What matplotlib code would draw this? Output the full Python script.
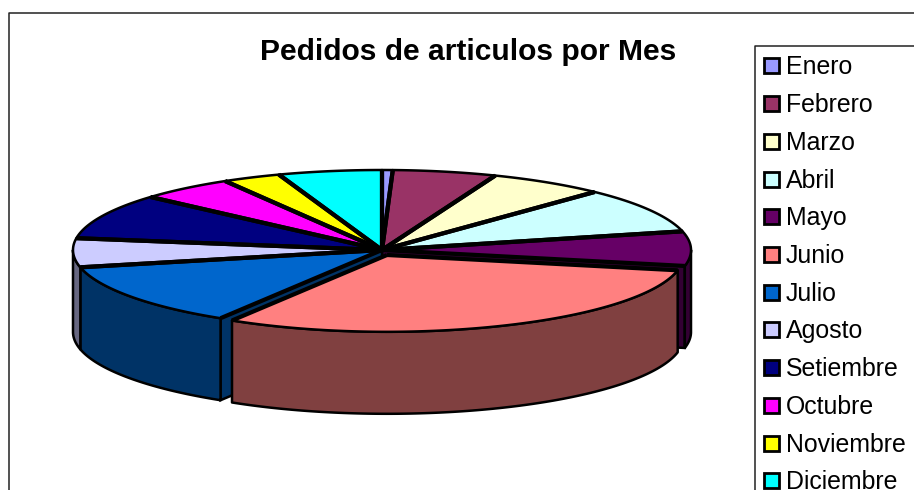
import numpy as np
import matplotlib
matplotlib.use('Agg')
import matplotlib.pyplot as plt
from matplotlib.patches import Polygon, Rectangle

plt.rcParams['font.family'] = ['Liberation Sans', 'DejaVu Sans']

# slices (as share of the circle)
meses = ['Enero', 'Febrero', 'Marzo', 'Abril', 'Mayo', 'Junio', 'Julio',
         'Agosto', 'Setiembre', 'Octubre', 'Noviembre', 'Diciembre']
pedidos = [2, 19.5, 22, 33, 25, 110, 46, 21, 33, 18, 11, 19.5]
colores = ['#9999FF', '#993366', '#FFFFCC', '#CCFFFF', '#660066', '#FF8080',
           '#0066CC', '#CCCCFF', '#000080', '#FF00FF', '#FFFF00', '#00FFFF']
separado = 'Junio'

# pixel geometry of the 3d pie
cx, cy = 382, 250
rx, ry = 309, 80
depth = 82
sep_dx, sep_dy, sep_r = 5, 5, 0.96


def darker(color):
    r, g, b = matplotlib.colors.to_rgb(color)
    return (r * 0.5, g * 0.5, b * 0.5)


def arc(a0, a1, x0, y0, scale, dy=0):
    t = np.radians(np.linspace(a0, a1, 120))
    return np.column_stack([x0 + scale * rx * np.sin(t),
                            y0 + dy - scale * ry * np.cos(t)])


def cut_face(a, x0, y0, scale, color):
    p = arc(a, a, x0, y0, scale)[0]
    ax.add_patch(Polygon([(x0, y0), p, (p[0], p[1] + depth), (x0, y0 + depth)],
                         closed=True, facecolor=darker(color),
                         edgecolor='black', lw=1.8))


fig = plt.figure(figsize=(9.14, 4.9), dpi=100)
ax = fig.add_axes([0, 0, 1, 1])
ax.set_xlim(0, 914)
ax.set_ylim(490, 0)
ax.axis('off')

# outer frame, runs off the picture on the right and bottom
ax.plot([9, 9, 914], [490, 13, 13], color='#222222', lw=1.1)
ax.text(468, 60, 'Pedidos de articulos por Mes', ha='center', va='baseline',
        fontsize=21.6, fontweight='bold', color='black')

# angles go clockwise from twelve o'clock
bordes = np.concatenate([[0], np.cumsum(pedidos)]) * 360 / sum(pedidos)
slices = []
for i, mes in enumerate(meses):
    if mes == separado:
        slices.append((i, bordes[i], bordes[i + 1], cx + sep_dx, cy + sep_dy, sep_r))
    else:
        slices.append((i, bordes[i], bordes[i + 1], cx, cy, 1.0))
# the separated slice goes on top of the rest
slices.sort(key=lambda s: s[5] != 1.0)

for i, a0, a1, x0, y0, scale in slices:
    # the gap beside the separated slice shows the neighbours' cut faces
    if i > 0 and meses[i - 1] == separado:
        cut_face(a0, x0, y0, scale, colores[i])
    if i + 1 < len(meses) and meses[i + 1] == separado:
        cut_face(a1, x0, y0, scale, colores[i])
    # outer wall, only the front half shows
    lo, hi = max(a0, 90), min(a1, 270)
    if hi > lo:
        top = arc(lo, hi, x0, y0, scale)
        bottom = arc(lo, hi, x0, y0, scale, depth)
        ax.add_patch(Polygon(np.vstack([top, bottom[::-1]]), closed=True,
                             facecolor=darker(colores[i]), edgecolor='black',
                             lw=1.8, joinstyle='round'))

for i, a0, a1, x0, y0, scale in slices:
    pts = arc(a0, a1, x0, y0, scale)
    ax.add_patch(Polygon(np.vstack([[x0, y0], pts]), closed=True,
                         facecolor=colores[i], edgecolor='none'))
    ax.plot(pts[:, 0], pts[:, 1], color='black', lw=1.8, solid_capstyle='round')
    for p in (pts[0], pts[-1]):
        ax.plot([x0, p[0]], [y0, p[1]], color='black', lw=3.0, solid_capstyle='butt')

# legend box, cut by the picture edge
ax.plot([755, 755, 914], [490, 46, 46], color='#222222', lw=1.1)
for i, mes in enumerate(meses):
    y = 66 + i * 37.7
    ax.add_patch(Rectangle((763.5, y - 7.5), 15, 15, facecolor=colores[i],
                           edgecolor='black', lw=2.0))
    ax.text(785.5, y + 8.5, mes, ha='left', va='baseline', fontsize=17.9,
            color='black')

fig.savefig('out.png', dpi=100)
